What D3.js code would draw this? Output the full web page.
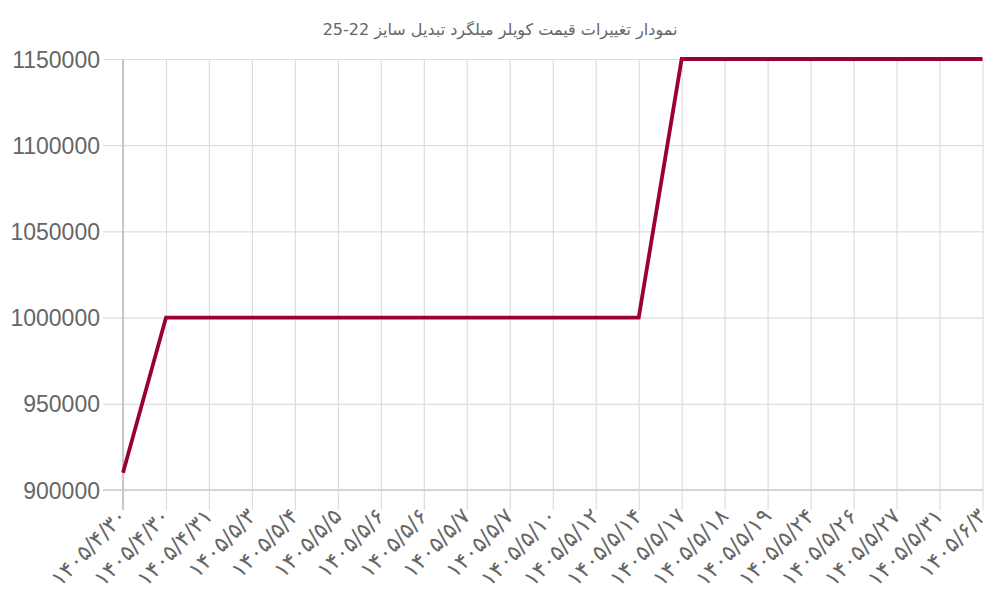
<!DOCTYPE html>
<html><head><meta charset="utf-8">
<script src="https://cdn.jsdelivr.net/npm/d3@7"></script>
<style>html,body{margin:0;padding:0;background:#fff;}svg{display:block;}</style>
</head><body>
<svg id="c" width="1000" height="600"></svg>
<script>
const titleText = "نمودار تغییرات قیمت کویلر میلگرد تبدیل سایز 22-25";
const dates = ["۱۴۰۵/۴/۳۰","۱۴۰۵/۴/۳۰","۱۴۰۵/۴/۳۱","۱۴۰۵/۵/۳","۱۴۰۵/۵/۴","۱۴۰۵/۵/۵","۱۴۰۵/۵/۶","۱۴۰۵/۵/۶","۱۴۰۵/۵/۷","۱۴۰۵/۵/۷","۱۴۰۵/۵/۱۰","۱۴۰۵/۵/۱۲","۱۴۰۵/۵/۱۴","۱۴۰۵/۵/۱۷","۱۴۰۵/۵/۱۸","۱۴۰۵/۵/۱۹","۱۴۰۵/۵/۲۴","۱۴۰۵/۵/۲۶","۱۴۰۵/۵/۲۷","۱۴۰۵/۵/۳۱","۱۴۰۵/۶/۳"];
const prices = [910000,1000000,1000000,1000000,1000000,1000000,1000000,1000000,1000000,1000000,1000000,1000000,1000000,1150000,1150000,1150000,1150000,1150000,1150000,1150000,1150000];
const yTicks = [900000,950000,1000000,1050000,1100000,1150000];

const svg = d3.select("#c");
const L = 123, R = 982.5, T = 59, B = 490;
const x = d3.scalePoint().domain(d3.range(dates.length)).range([L, R]);
const y = d3.scaleLinear().domain([900000, 1150000]).range([B, T]);

// title
svg.append("text").attr("x", 500).attr("y", 35).attr("text-anchor", "middle")
  .attr("direction", "rtl")
  .attr("font-family", "DejaVu Sans, sans-serif").attr("font-size", 16).attr("fill", "#666")
  .text(titleText);

// y grid + axis
const gy = svg.append("g").attr("transform", `translate(${L},0)`)
  .call(d3.axisLeft(y).tickValues(yTicks).tickSize(20).tickPadding(3).tickFormat(d3.format("d")));
gy.select(".domain").remove();
gy.selectAll(".tick line").attr("stroke", "#dedede").attr("stroke-width", 1.2).attr("x2", R - L + 0.5).attr("x1", -20);
gy.selectAll(".tick text").attr("font-family", "Liberation Sans, Arial, sans-serif")
  .attr("font-size", 23).attr("fill", "#666").attr("dy", "0.35em");

// x grid + axis
const gx = svg.append("g").attr("transform", `translate(0,${B})`)
  .call(d3.axisBottom(x).tickSize(0).tickFormat(i => dates[i]));
gx.select(".domain").remove();
gx.selectAll(".tick").append("line").attr("stroke", "#dedede").attr("stroke-width", 1.2).attr("y1", -(B - T)).attr("y2", 20);
gx.selectAll(".tick text")
  .attr("font-family", "DejaVu Sans, sans-serif").attr("font-size", 22).attr("fill", "#666")
  .attr("text-anchor", "end").attr("direction", "ltr")
  .attr("transform", "translate(-1,22) rotate(-46)")
  .attr("x", 0).attr("y", 0).attr("dy", "0.35em");

// axis lines
svg.append("line").attr("x1", L).attr("x2", L).attr("y1", T).attr("y2", B + 20).attr("stroke", "#bbb").attr("stroke-width", 1.5);
svg.append("line").attr("x1", L - 20).attr("x2", R + 0.5).attr("y1", B).attr("y2", B).attr("stroke", "#ccc").attr("stroke-width", 1.5);

// data line
const line = d3.line().x((d, i) => x(i)).y(d => y(d));
svg.append("path").datum(prices).attr("d", line).attr("fill", "none")
  .attr("stroke", "#990033").attr("stroke-width", 3.8).attr("stroke-linejoin", "miter");
</script>
</body></html>
